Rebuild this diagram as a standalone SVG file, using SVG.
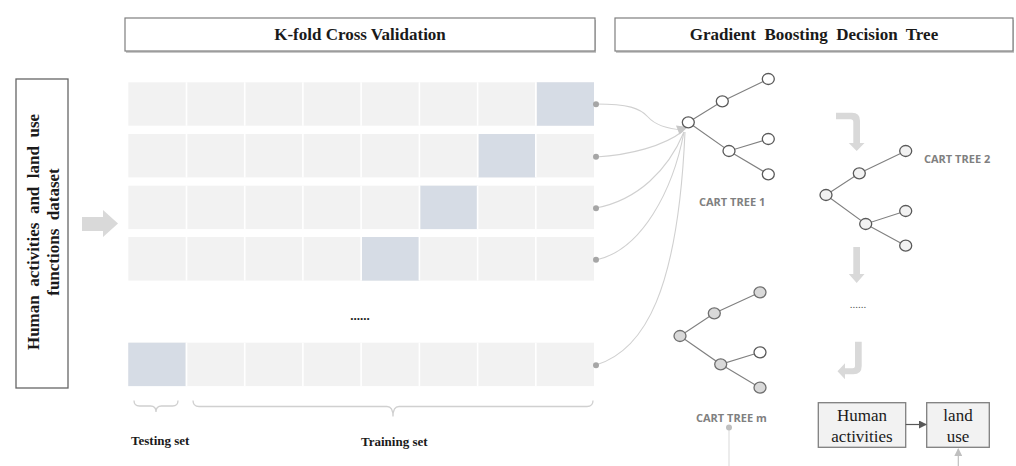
<svg xmlns="http://www.w3.org/2000/svg" width="1016" height="466" viewBox="0 0 1016 466">
<style>
.title{font-family:"Liberation Serif","Times New Roman",serif;font-weight:bold;font-size:17px;fill:#1a1a1a;text-anchor:middle;white-space:pre}
.lbl{font-family:"Liberation Serif","Times New Roman",serif;font-weight:bold;font-size:13px;fill:#1a1a1a}
.box{fill:#ffffff;stroke:#7f7f7f;stroke-width:1.2}
.shadow{fill:#c8c8c8}
.cell{fill:#f2f2f2}
.hi{fill:#d6dce5}
.sep{stroke:#ffffff;stroke-width:1.6}
.dot{fill:#a6a6a6}
.conn{fill:none;stroke:#d0d0d0;stroke-width:1.1}
.brace{fill:none;stroke:#d0d0d0;stroke-width:1.3}
.edge{fill:none;stroke:#808080;stroke-width:1.1}
.n1{fill:#ffffff;stroke:#595959;stroke-width:1.3}
.n2{fill:#f2f2f2;stroke:#595959;stroke-width:1.3}
.nm{fill:#d9d9d9;stroke:#6f6f6f;stroke-width:1.3}
.cart{font-family:"Open Sans","Noto Sans",sans-serif;font-weight:bold;font-size:11px;fill:#808080}
.garrow{fill:#d9d9d9}
.rbox{fill:#f2f2f2;stroke:#7f7f7f;stroke-width:1.3}
.rtxt{font-family:"Liberation Serif","Times New Roman",serif;font-size:17px;fill:#1a1a1a;text-anchor:middle}
</style>
<defs>
<marker id="ah" markerWidth="8" markerHeight="8" refX="7" refY="4" orient="auto" markerUnits="userSpaceOnUse">
<path d="M0,0 L8,4 L0,8 z" fill="#595959"/>
</marker>
<marker id="ahl" markerWidth="8" markerHeight="8" refX="7" refY="4" orient="auto" markerUnits="userSpaceOnUse">
<path d="M0,0 L8,4 L0,8 z" fill="#bfbfbf"/>
</marker>
</defs>

<g id="header-kfold">
<rect class="shadow" x="126" y="20" width="470" height="33"/>
<rect class="box" x="125" y="18" width="470" height="33"/>
<text class="title" x="360" y="40">K-fold Cross Validation</text>
</g>
<g id="header-gbdt">
<rect class="shadow" x="616" y="20" width="398" height="33"/>
<rect class="box" x="615" y="18" width="398" height="33"/>
<text class="title" x="814" y="40" xml:space="preserve">Gradient  Boosting  Decision  Tree</text>
</g>

<g id="dataset">
<rect x="16" y="79" width="52" height="309" fill="#ffffff" stroke="#666666" stroke-width="1.3"/>
<text class="title" font-size="16.6" transform="translate(39,232) rotate(-90)" xml:space="preserve">Human  activities  and  land  use</text>
<text class="title" font-size="16.6" transform="translate(59,232) rotate(-90)" xml:space="preserve">functions  dataset</text>
</g>

<g id="input-arrow">
<polygon class="garrow" points="82,217 103,217 103,210 118,223.5 103,237 103,231 82,231"/>
</g>

<g id="fold-1">
<rect class="cell" x="128.3" y="82.3" width="465.7" height="43.4"/>
<rect class="hi" x="536.7" y="82.3" width="57.3" height="43.4"/>
<path class="sep" d="M186.5,82.3V125.7M244.7,82.3V125.7M302.9,82.3V125.7M361.1,82.3V125.7M419.4,82.3V125.7M477.6,82.3V125.7M535.8,82.3V125.7"/>
</g>
<g id="fold-2">
<rect class="cell" x="128.3" y="134" width="465.7" height="43.4"/>
<rect class="hi" x="478.4" y="134" width="57.4" height="43.4"/>
<path class="sep" d="M186.5,134V177.4M244.7,134V177.4M302.9,134V177.4M361.1,134V177.4M419.4,134V177.4M477.6,134V177.4M535.8,134V177.4"/>
</g>
<g id="fold-3">
<rect class="cell" x="128.3" y="185.7" width="465.7" height="43.4"/>
<rect class="hi" x="420.2" y="185.7" width="57.4" height="43.4"/>
<path class="sep" d="M186.5,185.7V229.1M244.7,185.7V229.1M302.9,185.7V229.1M361.1,185.7V229.1M419.4,185.7V229.1M477.6,185.7V229.1M535.8,185.7V229.1"/>
</g>
<g id="fold-4">
<rect class="cell" x="128.3" y="237" width="465.7" height="43.6"/>
<rect class="hi" x="361.9" y="237" width="57.5" height="43.6"/>
<path class="sep" d="M186.5,237V280.6M244.7,237V280.6M302.9,237V280.6M361.1,237V280.6M419.4,237V280.6M477.6,237V280.6M535.8,237V280.6"/>
</g>
<text class="lbl" x="360" y="320" text-anchor="middle" font-size="14">......</text>
<g id="fold-k">
<rect class="cell" x="128.3" y="342.7" width="465.7" height="43.4"/>
<rect class="hi" x="128.3" y="342.7" width="57.4" height="43.4"/>
<path class="sep" d="M186.5,342.7V386.1M244.7,342.7V386.1M302.9,342.7V386.1M361.1,342.7V386.1M419.4,342.7V386.1M477.6,342.7V386.1M535.8,342.7V386.1"/>
</g>

<g id="braces">
<path class="brace" d="M134,400.5 q0,5.5 5.5,5.5 L150.5,406 q5.5,0 5.5,6 q0,-6 5.5,-6 L172.5,406 q5.5,0 5.5,-5.5"/>
<path class="brace" d="M193,400.5 q0,6 6,6 L387,406.5 q6,0 6,10 q0,-10 6,-10 L587,406.5 q6,0 6,-6"/>
<text class="lbl" x="131" y="445">Testing set</text>
<text class="lbl" x="361" y="446">Training set</text>
</g>

<g id="connectors">
<path class="conn" d="M596,104 C628,104 640,108 648,117 C656,126 670,129 683,130"/>
<path class="conn" d="M596,157 C630,155 664,146 683,131"/>
<path class="conn" d="M596,208 C638,200 668,170 684,132"/>
<path class="conn" d="M596,260 C642,250 673,190 684,132"/>
<path class="conn" d="M596,365 C645,350 678,290 685,132"/>
<polygon points="688,127 676,125.5 679.5,134.5" fill="#c8c8c8"/>
<circle class="dot" cx="596" cy="104.3" r="3"/>
<circle class="dot" cx="596" cy="156.7" r="3"/>
<circle class="dot" cx="596" cy="208.3" r="3"/>
<circle class="dot" cx="596" cy="259.7" r="3"/>
<circle class="dot" cx="596" cy="365.3" r="3"/>
</g>

<g id="cart-tree-1">
<path class="edge" d="M688.3,122.3L722.3,101.3L768.3,79M688.3,122.3L729,151L768.3,139M729,151L768.3,174.3"/>
<ellipse class="n1" cx="688.3" cy="122.3" rx="6" ry="5.5"/>
<ellipse class="n1" cx="722.3" cy="101.3" rx="6" ry="5.5"/>
<ellipse class="n1" cx="768.3" cy="79" rx="6" ry="5.5"/>
<ellipse class="n1" cx="729" cy="151" rx="6" ry="5.5"/>
<ellipse class="n1" cx="768.3" cy="139" rx="6" ry="5.5"/>
<ellipse class="n1" cx="768.3" cy="174.3" rx="6" ry="5.5"/>
<text class="cart" x="699" y="206">CART TREE 1</text>
</g>

<g id="cart-tree-2">
<path class="edge" d="M826,195L859.3,173.3L905.7,151M826,195L865.7,224L905.7,211M865.7,224L905.7,245.7"/>
<ellipse class="n2" cx="826" cy="195" rx="6" ry="5.5"/>
<ellipse class="n2" cx="859.3" cy="173.3" rx="6" ry="5.5"/>
<ellipse class="n2" cx="905.7" cy="151" rx="6" ry="5.5"/>
<ellipse class="n2" cx="865.7" cy="224" rx="6" ry="5.5"/>
<ellipse class="n2" cx="905.7" cy="211" rx="6" ry="5.5"/>
<ellipse class="n2" cx="905.7" cy="245.7" rx="6" ry="5.5"/>
<text class="cart" x="924" y="163">CART TREE 2</text>
</g>

<g id="cart-tree-m">
<path class="edge" d="M680,336L714.3,313.3L760,292.3M680,336L720.7,364.3L760,352.3M720.7,364.3L760,387.7"/>
<ellipse class="nm" cx="680" cy="336" rx="6" ry="5.5"/>
<ellipse class="nm" cx="714.3" cy="313.3" rx="6" ry="5.5"/>
<ellipse class="nm" cx="760" cy="292.3" rx="6" ry="5.5"/>
<ellipse class="nm" cx="720.7" cy="364.3" rx="6" ry="5.5"/>
<ellipse class="n1" cx="760" cy="352.3" rx="6" ry="5.5"/>
<ellipse class="nm" cx="760" cy="387.7" rx="6" ry="5.5"/>
<text class="cart" x="696" y="422">CART TREE m</text>
<line x1="729" y1="428" x2="729" y2="466" stroke="#d9d9d9" stroke-width="1"/>
<circle cx="729" cy="427.5" r="3" fill="#bfbfbf"/>
</g>

<g id="flow-arrows">
<path class="garrow" d="M836,112.7 H852 Q860,112.7 860,120.7 V143 H864.5 L856.7,151 L848.8,143 H853.3 V122 Q853.3,119.3 850.6,119.3 H836 Z"/>
<path class="garrow" d="M853.3,247 H860 V274 H864.5 L856.7,283 L848.8,274 H853.3 Z"/>
<text x="858" y="308" text-anchor="middle" font-family="Liberation Serif,serif" font-size="11" fill="#595959">......</text>
<path class="garrow" d="M855,341.7 H861.7 V366 Q861.7,374.3 853.4,374.3 H845 V379.3 L837.5,371.3 L845,363.3 V368.3 H852.5 Q855,368.3 855,365.8 Z"/>
</g>

<g id="result">
<rect class="rbox" x="818.3" y="402.7" width="87.4" height="44.6"/>
<text class="rtxt" x="862" y="420.5">Human</text>
<text class="rtxt" x="862" y="441.5">activities</text>
<rect class="rbox" x="926.7" y="402.7" width="62.6" height="44.6"/>
<text class="rtxt" x="958" y="420.5">land</text>
<text class="rtxt" x="958" y="441.5">use</text>
<line x1="905.7" y1="424.5" x2="926" y2="424.5" stroke="#595959" stroke-width="1.2" marker-end="url(#ah)"/>
<line x1="958.3" y1="466" x2="958.3" y2="449" stroke="#bfbfbf" stroke-width="1.2" marker-end="url(#ahl)"/>
</g>
</svg>
